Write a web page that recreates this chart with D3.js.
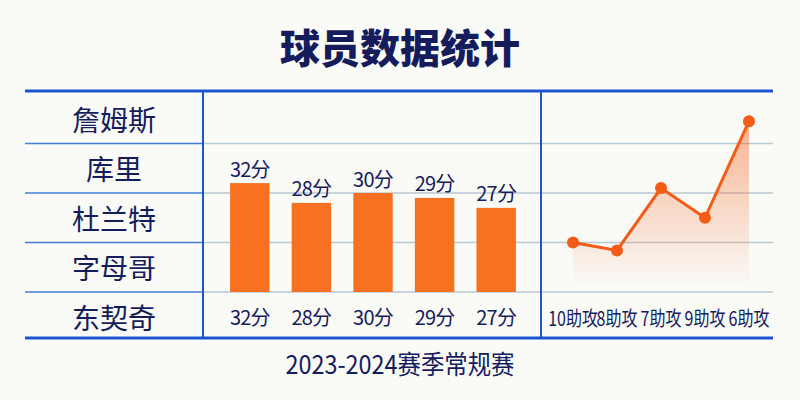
<!DOCTYPE html>
<html>
<head>
<meta charset="utf-8">
<script src="https://cdn.jsdelivr.net/npm/d3@7"></script>
<style>
  html, body { margin: 0; padding: 0; background: #fafaf7; }
  svg { display: block; font-family: "Noto Sans CJK SC", "Noto Sans", sans-serif; }
</style>
</head>
<body>
<div id="chart"></div>
<script>
// data
var players = ["詹姆斯", "库里", "杜兰特", "字母哥", "东契奇"];
var points = [32, 28, 30, 29, 27];
var assists = [10, 8, 7, 9, 6];
var trend = [1.0, 0.84, 2.1, 1.5, 3.45]; // line heights
var title = "球员数据统计";
var footer = "2023-2024赛季常规赛";

var width = 800, height = 400;
var navy = "#151c5c", blue = "#1c54cf", orange = "#f97120", lineOrange = "#f45c16";

var svg = d3.select("#chart").append("svg")
    .attr("width", width)
    .attr("height", height);

svg.append("rect").attr("width", width).attr("height", height).attr("fill", "#fafaf7");

var frameLeft = 25, frameRight = 773, frameTop = 91, frameBottom = 338;
var col1 = 203, col2 = 541;

// row grid (shared by all three panels)
var gridY = d3.scaleLinear().domain([0, 4]).range([292, 94]);

// bars
var x = d3.scaleBand().domain(players).range([219, 527]).paddingInner(0.36).paddingOuter(0.18);
var y = d3.scaleLinear().domain([10, 50]).range([gridY(0), gridY(4)]);

// line
var xl = d3.scalePoint().domain(players).range([573, 749]);

// title
svg.append("text")
    .attr("x", 400).attr("y", 46)
    .attr("text-anchor", "middle").attr("dominant-baseline", "central")
    .attr("font-size", 40).attr("font-weight", 900).attr("fill", navy)
    .text(title);

// grid lines
[0, 1, 2, 3].forEach(function(i) {
    svg.append("line")
        .attr("x1", frameLeft).attr("x2", col1)
        .attr("y1", gridY(i)).attr("y2", gridY(i))
        .attr("stroke", "#3f7fdc").attr("stroke-width", 1.5);
    svg.append("line")
        .attr("x1", col1).attr("x2", frameRight)
        .attr("y1", gridY(i)).attr("y2", gridY(i))
        .attr("stroke", "#b9c9d2").attr("stroke-width", 1.5);
});

// row names
svg.selectAll(".name").data(players).enter().append("text")
    .attr("x", (frameLeft + col1) / 2)
    .attr("y", function(d, i) { return gridY(3.5 - i); })
    .attr("text-anchor", "middle").attr("dominant-baseline", "central")
    .attr("font-size", 28).attr("fill", navy)
    .text(function(d) { return d; });

// bars
svg.selectAll(".bar").data(points).enter().append("rect")
    .attr("x", function(d, i) { return x(players[i]); })
    .attr("width", x.bandwidth())
    .attr("y", function(d) { return y(d); })
    .attr("height", function(d) { return y(10) - y(d); })
    .attr("fill", orange);

svg.selectAll(".bar-label").data(points).enter().append("text")
    .attr("x", function(d, i) { return x(players[i]) + x.bandwidth() / 2; })
    .attr("y", function(d) { return y(d) - 15; })
    .attr("text-anchor", "middle").attr("dominant-baseline", "central")
    .attr("font-size", 20).attr("letter-spacing", -0.8).attr("fill", navy)
    .text(function(d) { return d + "分"; });

svg.selectAll(".bar-bottom").data(points).enter().append("text")
    .attr("x", function(d, i) { return x(players[i]) + x.bandwidth() / 2; })
    .attr("y", gridY(-0.5))
    .attr("text-anchor", "middle").attr("dominant-baseline", "central")
    .attr("font-size", 20).attr("letter-spacing", -0.8).attr("fill", navy)
    .text(function(d) { return d + "分"; });

// area + line
var defs = svg.append("defs");
var grad = defs.append("linearGradient").attr("id", "fade")
    .attr("gradientUnits", "userSpaceOnUse")
    .attr("x1", 0).attr("x2", 0).attr("y1", 120).attr("y2", 286);
grad.append("stop").attr("offset", 0).attr("stop-color", "#f56a2a").attr("stop-opacity", 0.5);
grad.append("stop").attr("offset", 1).attr("stop-color", "#f56a2a").attr("stop-opacity", 0);

var area = d3.area()
    .x(function(d, i) { return xl(players[i]); })
    .y0(286)
    .y1(function(d) { return gridY(d); });

var line = d3.line()
    .x(function(d, i) { return xl(players[i]); })
    .y(function(d) { return gridY(d); });

svg.append("path").datum(trend).attr("d", area).attr("fill", "url(#fade)");
svg.append("path").datum(trend).attr("d", line)
    .attr("fill", "none").attr("stroke", lineOrange).attr("stroke-width", 3);

svg.selectAll(".dot").data(trend).enter().append("circle")
    .attr("cx", function(d, i) { return xl(players[i]); })
    .attr("cy", function(d) { return gridY(d); })
    .attr("r", 6)
    .attr("fill", lineOrange);

svg.selectAll(".assist").data(assists).enter().append("text")
    .attr("transform", function(d, i) {
        return "translate(" + xl(players[i]) + "," + gridY(-0.5) + ") scale(0.8,1)";
    })
    .attr("text-anchor", "middle").attr("dominant-baseline", "central")
    .attr("font-size", 20).attr("fill", navy)
    .text(function(d) { return d + "助攻"; });

// frame
svg.append("line").attr("x1", frameLeft).attr("x2", frameRight).attr("y1", frameTop).attr("y2", frameTop)
    .attr("stroke", blue).attr("stroke-width", 3);
svg.append("line").attr("x1", frameLeft).attr("x2", frameRight).attr("y1", frameBottom).attr("y2", frameBottom)
    .attr("stroke", blue).attr("stroke-width", 3);
[col1, col2].forEach(function(cx) {
    svg.append("line").attr("x1", cx).attr("x2", cx).attr("y1", frameTop).attr("y2", frameBottom)
        .attr("stroke", blue).attr("stroke-width", 2);
});

// footer
svg.append("text")
    .attr("transform", "translate(400,362) scale(0.9,1)")
    .attr("text-anchor", "middle").attr("dominant-baseline", "central")
    .attr("font-size", 26).attr("fill", navy)
    .text(footer);
</script>
</body>
</html>
